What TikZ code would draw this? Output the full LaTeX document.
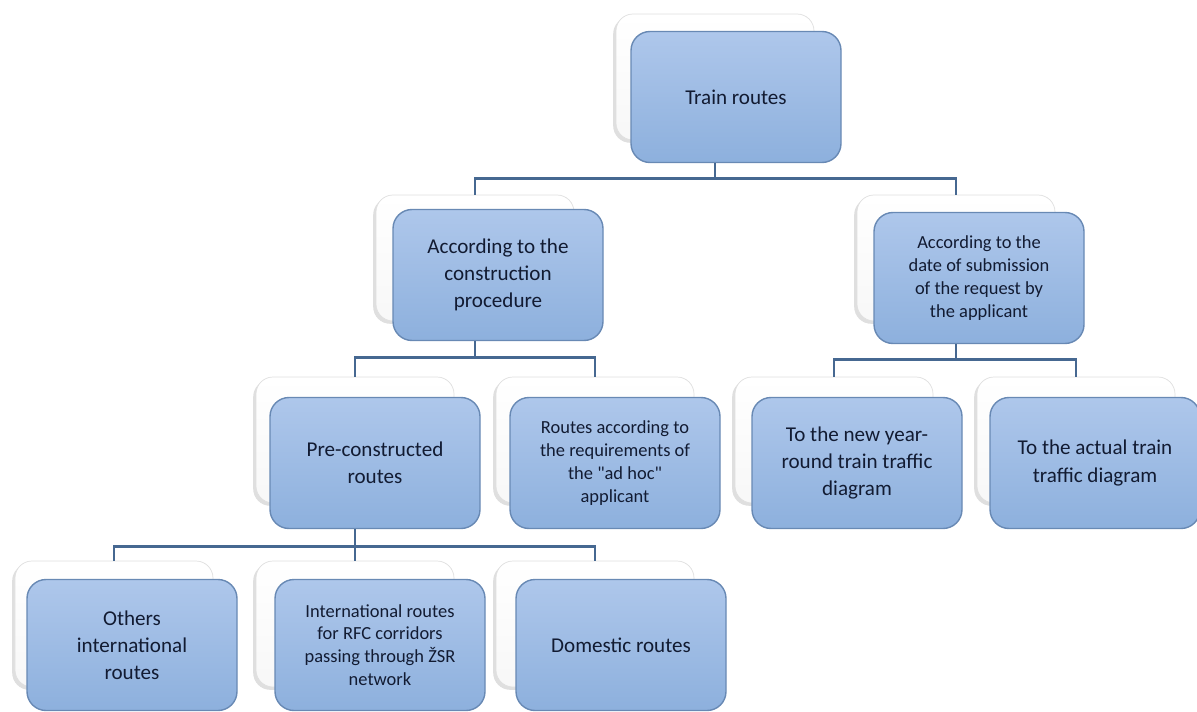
\documentclass[tikz,border=0pt]{standalone}
\usepackage{fontspec}
\setmainfont{Carlito}
\usepackage{tikz}
\usetikzlibrary{positioning, shadows}
\usepackage{xcolor}

\definecolor{boxtop}{RGB}{174,199,235}
\definecolor{boxbot}{RGB}{141,176,221}
\definecolor{boxline}{RGB}{104,137,180}
\definecolor{linkcol}{RGB}{70,104,145}
\definecolor{txtcol}{RGB}{18,27,50}

\begin{document}
\begin{tikzpicture}[
    back/.style={rectangle, rounded corners=0.34cm, draw=gray!25, top color=white, bottom color=gray!6,
        minimum width=3.96cm, minimum height=2.52cm,
        drop shadow={shadow xshift=-1.6pt, shadow yshift=-1.6pt, opacity=0.25}},
    front/.style={rectangle, rounded corners=0.38cm, draw=boxline, line width=0.8pt, top color=boxtop, bottom color=boxbot,
        minimum width=4.2cm, minimum height=2.62cm, align=center, text=txtcol, inner sep=2pt},
    big/.style={font=\fontsize{12}{15.5}\selectfont},
    small/.style={font=\fontsize{10.5}{13}\selectfont},
    link/.style={draw=linkcol, line width=1.5pt}
]
\useasboundingbox (0,0) rectangle (23.94,14.22);

% Top level
\node[back] (trainbk) at (14.30, 12.68) {};
\node[front, big] (train) at ([shift={(0.42,-0.40)}]trainbk) {Train routes};

% Second level
\node[back] (constrbk) at (9.50, 9.06) {};
\node[front, big] (constr) at ([shift={(0.46,-0.34)}]constrbk) {According to the\\construction\\procedure};
\node[back] (datebk) at (19.12, 9.06) {};
\node[front, small] (date) at ([shift={(0.46,-0.40)}]datebk) {According to the\\date of submission\\of the request by\\the applicant};

% Third level
\node[back] (prebk) at (7.10, 5.42) {};
\node[front, big] (pre) at ([shift={(0.40,-0.46)}]prebk) {Pre-constructed\\routes};
\node[back] (adhocbk) at (11.90, 5.42) {};
\node[front, small] (adhoc) at ([shift={(0.40,-0.46)}]adhocbk) {Routes according to\\the requirements of\\the \textquotedbl ad hoc\textquotedbl\\applicant};
\node[back] (yearbk) at (16.68, 5.42) {};
\node[front, big] (year) at ([shift={(0.46,-0.46)}]yearbk) {To the new year-\\round train traffic\\diagram};
\node[back] (actualbk) at (21.52, 5.42) {};
\node[front, big] (actual) at ([shift={(0.38,-0.46)}]actualbk) {To the actual train\\traffic diagram};

% Fourth level
\node[back] (othersbk) at (2.28, 1.74) {};
\node[front, big] (others) at ([shift={(0.36,-0.42)}]othersbk) {Others\\international\\routes};
\node[back] (intlbk) at (7.10, 1.74) {};
\node[front, small] (intl) at ([shift={(0.50,-0.42)}]intlbk) {International routes\\for RFC corridors\\passing through ŽSR\\network};
\node[back] (domesticbk) at (11.90, 1.74) {};
\node[front, big] (domestic) at ([shift={(0.52,-0.42)}]domesticbk) {Domestic routes};

% Connectors
\draw[link] (trainbk |- train.south) -- ++(0,-0.31) -| (constrbk.north);
\draw[link] (trainbk |- train.south) -- ++(0,-0.31) -| (datebk.north);
\draw[link] (constrbk |- constr.south) -- ++(0,-0.33) -| (prebk.north);
\draw[link] (constrbk |- constr.south) -- ++(0,-0.33) -| (adhocbk.north);
\draw[link] (datebk |- date.south) -- ++(0,-0.30) -| (yearbk.north);
\draw[link] (datebk |- date.south) -- ++(0,-0.30) -| (actualbk.north);
\draw[link] (prebk |- pre.south) -- ++(0,-0.35) -| (othersbk.north);
\draw[link] (prebk |- pre.south) -- ++(0,-0.35) -| (intlbk.north);
\draw[link] (prebk |- pre.south) -- ++(0,-0.35) -| (domesticbk.north);

\end{tikzpicture}
\end{document}
